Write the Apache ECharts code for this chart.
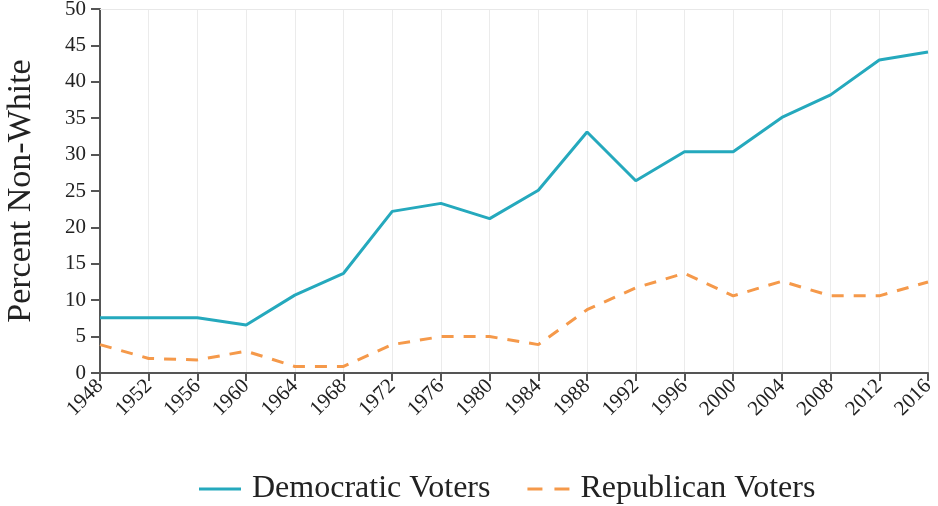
<!DOCTYPE html>
<html><head><meta charset="utf-8">
<script src="https://cdn.jsdelivr.net/npm/echarts@6/dist/echarts.min.js"></script>
<style>html,body{margin:0;padding:0;background:#fff}#c{width:938px;height:506px}</style>
</head><body><div id="c"></div>
<script>
const years = ['1948','1952','1956','1960','1964','1968','1972','1976','1980','1984','1988','1992','1996','2000','2004','2008','2012','2016'];
const democratic = [7.6,7.6,7.6,6.6,10.7,13.7,22.2,23.3,21.2,25.1,33.1,26.4,30.4,30.4,35.1,38.2,43.0,44.1];
const republican = [3.9,2.0,1.8,3.0,0.9,0.9,3.9,5.0,5.0,3.9,8.7,11.7,13.7,10.6,12.6,10.6,10.6,12.5];
const yTicks = [0,5,10,15,20,25,30,35,40,45,50];

const FONT = 'Liberation Serif';
const chart = echarts.init(document.getElementById('c'));
chart.setOption({
  animation: false,
  textStyle: {fontFamily: FONT},
  grid: {left: 100, right: 10, top: 9, bottom: 133, containLabel: false, outerBoundsMode: 'none'},
  legend: {
    top: 468, left: 194, itemWidth: 42, itemHeight: 3, itemGap: 37,
    textStyle: {fontFamily: FONT, fontSize: 32, color: '#222', padding: [0, 0, 0, 6]},
    data: [
      {name: 'Democratic Voters', icon: 'path://M0,0 L42,0 L42,3 L0,3 Z'},
      {name: 'Republican Voters', icon: 'path://M0,0 L15,0 L15,3 L0,3 Z M27,0 L42,0 L42,3 L27,3 Z'}
    ]
  },
  xAxis: [{
    type: 'category', data: years, boundaryGap: false,
    axisLine: {lineStyle: {color: '#555', width: 2}},
    axisTick: {alignWithLabel: true, length: 8, lineStyle: {color: '#555', width: 2}},
    axisLabel: {rotate: 45, fontFamily: FONT, fontSize: 21, color: '#222', margin: 10},
    splitLine: {show: true, lineStyle: {color: '#ebebeb', width: 1}}
  },{
    type: 'category', data: years, boundaryGap: false, position: 'top',
    axisLine: {lineStyle: {color: '#e8e8e8', width: 1}},
    axisTick: {show: false}, axisLabel: {show: false}, splitLine: {show: false}
  }],
  yAxis: {
    type: 'value', min: 0, max: 50, interval: 5,
    name: 'Percent Non-White', nameLocation: 'middle', nameGap: 62,
    nameTextStyle: {fontFamily: FONT, fontSize: 34, color: '#222'},
    axisLine: {show: true, lineStyle: {color: '#555', width: 2}},
    axisTick: {show: true, length: 9, lineStyle: {color: '#555', width: 2}},
    axisLabel: {fontFamily: FONT, fontSize: 21, color: '#222', margin: 14,
      formatter: v => yTicks.includes(v) ? String(v) : ''},
    splitLine: {show: false}
  },
  series: [{
    name: 'Democratic Voters', type: 'line', data: democratic, symbol: 'none',
    lineStyle: {color: '#25a9bd', width: 3}, itemStyle: {color: '#25a9bd'}
  },{
    name: 'Republican Voters', type: 'line', data: republican, symbol: 'none',
    lineStyle: {color: '#f5994a', width: 3, type: [12, 10]}, itemStyle: {color: '#f5994a'}
  }]
});
</script></body></html>
